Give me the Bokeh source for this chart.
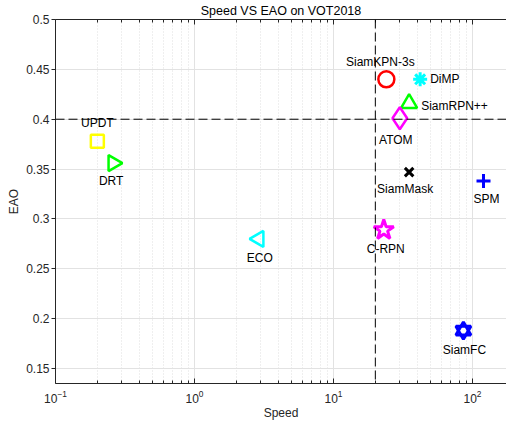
import math
from bokeh.plotting import figure
from bokeh.models import (Range1d, FixedTicker, LogTicker, LogAxis, Span,
                          ColumnDataSource, LogTickFormatter, CustomJSTickFormatter)
from bokeh.core.properties import value
from bokeh.embed import file_html
from bokeh.resources import INLINE

# ---- data -------------------------------------------------------------
trackers = ["SiamKPN-3s", "DiMP", "SiamRPN++", "ATOM", "UPDT", "DRT",
            "SiamMask", "SPM", "C-RPN", "ECO", "SiamFC"]
speed = [24, 42, 35, 30, 0.2, 0.26, 35, 120, 23, 2.9, 86]
eao = [0.440, 0.440, 0.416, 0.401, 0.378, 0.356, 0.347, 0.338, 0.289, 0.280, 0.188]

x_ticks = [0.1, 1, 10, 100]
y_ticks = [0.15, 0.2, 0.25, 0.3, 0.35, 0.4, 0.45, 0.5]
y_tick_labels = ["0.15", "0.2", "0.25", "0.3", "0.35", "0.4", "0.45", "0.5"]
speed_threshold = 20
eao_threshold = 0.4

# ---- styles -----------------------------------------------------------
FONT = "Liberation Sans"
AX = "#262626"
GRID = "#e2e2e2"

# marker, color, size, angle (rad), line width
marker_styles = [
    ("circle", "#ff0000", 16, 0, 2.5),
    ("asterisk", "#00ffff", 14, 0, 3),
    ("triangle", "#00ff00", 16, 0, 2.5),
    ("diamond", "#ff00ff", 22, 0, 2.5),
    ("square", "#ffff00", 13, 0, 2.5),
    ("triangle", "#00ff00", 16, -math.pi / 2, 2.5),
    ("x", "#000000", 12, 0, 3),
    ("cross", "#0000ff", 14, 0, 3),
    ("star", "#ff00ff", 21, 0, 3),
    ("triangle", "#00ffff", 16, math.pi / 2, 2.5),
    ("hexagram", "#0000ff", 15, 0, 3),
]
label_styles = [
    (-6, -17, "center"),
    (10, 0, "left"),
    (12, 3, "left"),
    (-4, 22, "center"),
    (0, -18, "center"),
    (-2, 18, "center"),
    (-4, 17, "center"),
    (3, 18, "center"),
    (2, 19, "center"),
    (1, 19, "center"),
    (1, 19, "center"),
]

x_end = 10 ** (-1 + 451 / 139)

p = figure(width=506, height=422, x_axis_type="log",
           x_range=Range1d(0.1, x_end), y_range=Range1d(0.135, 0.5),
           output_backend="svg", toolbar_location=None,
           title="Speed VS EAO on VOT2018",
           x_axis_label="Speed", y_axis_label="EAO",
           min_border_left=55, min_border_right=0, min_border_top=0,
           min_border_bottom=0, outline_line_color=None,
           background_fill_color="white", border_fill_color="white")

p.title.text_font = FONT
p.title.text_font_size = "12.5px"
p.title.text_font_style = "normal"
p.title.text_color = "#000000"
p.title.align = "center"
p.title.standoff = 3

minor = [m * d for d in x_ticks for m in range(2, 10)]
xticker = FixedTicker(ticks=x_ticks, minor_ticks=minor)
p.xaxis.ticker = xticker
p.xaxis.formatter = LogTickFormatter(ticker=LogTicker())
p.xgrid.ticker = xticker
p.yaxis.ticker = FixedTicker(ticks=y_ticks)
p.ygrid.ticker = FixedTicker(ticks=y_ticks)
p.yaxis.major_label_overrides = dict(zip(y_ticks, y_tick_labels))

for ax in (p.xaxis, p.yaxis):
    ax.axis_line_color = AX
    ax.major_tick_line_color = AX
    ax.minor_tick_line_color = AX
    ax.major_label_text_font = FONT
    ax.major_label_text_font_size = "12px"
    ax.major_label_text_color = AX
    ax.axis_label_text_font = FONT
    ax.axis_label_text_font_size = "12px"
    ax.axis_label_text_font_style = "normal"
    ax.axis_label_text_color = AX

p.xaxis.major_tick_in = 5
p.xaxis.major_tick_out = 0
p.xaxis.minor_tick_in = 3
p.xaxis.minor_tick_out = 0
p.xaxis.major_label_standoff = 6
p.xaxis.axis_label_standoff = 0

p.yaxis.major_tick_in = 0
p.yaxis.major_tick_out = 4
p.yaxis.minor_tick_line_color = None
p.yaxis.major_label_standoff = 2
p.yaxis.axis_label_standoff = 2

top = LogAxis(ticker=xticker, formatter=CustomJSTickFormatter(code="return ''"),
              major_label_standoff=0, major_tick_in=5, major_tick_out=0,
              minor_tick_in=3, minor_tick_out=0, axis_line_color=AX,
              major_tick_line_color=AX, minor_tick_line_color=AX,
              major_label_text_font_size="1px")
p.add_layout(top, "above")

p.xgrid.grid_line_color = GRID
p.xgrid.minor_grid_line_color = "#dedede"
p.xgrid.minor_grid_line_dash = "1 2"
p.ygrid.grid_line_color = GRID

p.add_layout(Span(location=speed_threshold, dimension="height",
                  line_color="black", line_dash="9 4", line_width=1))
p.add_layout(Span(location=eao_threshold, dimension="width",
                  line_color="black", line_dash="9 4", line_width=1))

for i, name in enumerate(trackers):
    mk, col, sz, ang, lw = marker_styles[i]
    kinds = ["triangle", "inverted_triangle"] if mk == "hexagram" else [mk]
    for k in kinds:
        p.scatter([speed[i]], [eao[i]], marker=k, size=sz, angle=ang,
                  fill_color=None, line_color=col, line_width=lw)

src = ColumnDataSource(dict(
    x=speed, y=eao, text=trackers,
    dx=[s[0] for s in label_styles], dy=[s[1] for s in label_styles],
    align=[s[2] for s in label_styles]))
p.text("x", "y", text="text", x_offset="dx", y_offset="dy",
       text_align="align", text_baseline="middle", source=src,
       text_font=value(FONT), text_font_size="12px", text_color="#000000")

open("out.html", "w").write(file_html(p, INLINE))
